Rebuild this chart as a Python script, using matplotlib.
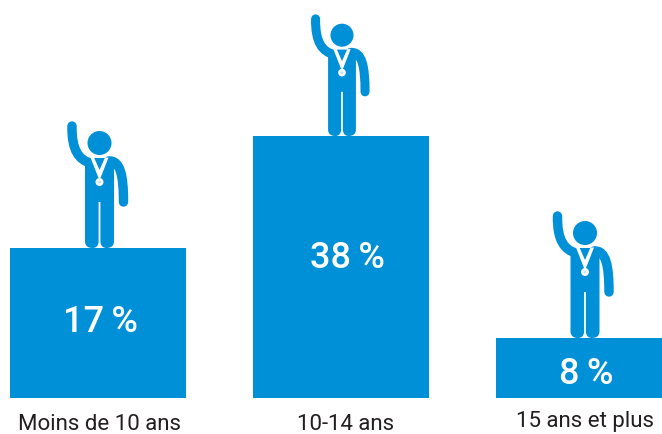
import matplotlib
matplotlib.use("Agg")
import matplotlib.pyplot as plt
from matplotlib.path import Path
from matplotlib.patches import PathPatch, Circle, Polygon

plt.rcParams['font.family'] = ['Roboto', 'DejaVu Sans']

# Data
categories = ["Moins de 10 ans", "10-14 ans", "15 ans et plus"]
percents = [17, 38, 8]
# the bars are not drawn to scale in the original, so heights are read separately
bar_heights = [150, 262, 60]

# Layout, in pixels
bar_centers = [98, 341, 584]
person_x = [99.5, 342, 585]
person_scale = [1.0, 0.96, 1.0]
percent_x = [100, 347, 586]
percent_y = [322, 259, 374]
label_x = [100, 346, 585]
label_y = [425, 425, 421]

BLUE = "#0090d7"
BASE = 398


def draw_person(ax, cx, base, s):
    # icon coordinates: dx from centre, dy above the top of the bar
    def p(dx, dy):
        return (cx + dx * s, base - dy * s)

    # raised arm
    arm = Path([p(-27.5, 122), p(-28, 97), p(-20, 88), p(-9, 85)],
               [Path.MOVETO, Path.CURVE4, Path.CURVE4, Path.CURVE4])
    ax.add_patch(PathPatch(arm, fill=False, ec=BLUE, lw=6.8 * s, capstyle='round'))
    # lower arm
    arm2 = Path([p(9, 87), p(21, 88), p(24, 72), p(24, 46)],
                [Path.MOVETO, Path.CURVE4, Path.CURVE4, Path.CURVE4])
    ax.add_patch(PathPatch(arm2, fill=False, ec=BLUE, lw=6.8 * s, capstyle='round'))
    # torso and legs
    verts = [p(-14.5, 90), p(14.5, 90), p(14.5, 6), p(14, 0), p(7, 0), p(1.5, 0), p(0.9, 6), p(0.9, 46),
             p(-0.9, 46), p(-0.9, 6), p(-1.5, 0), p(-7, 0), p(-14, 0), p(-14.5, 6), p(-14.5, 90)]
    codes = [Path.MOVETO, Path.LINETO, Path.LINETO, Path.CURVE3, Path.CURVE3, Path.CURVE3, Path.CURVE3, Path.LINETO,
             Path.LINETO, Path.LINETO, Path.CURVE3, Path.CURVE3, Path.CURVE3, Path.CURVE3, Path.LINETO]
    ax.add_patch(PathPatch(Path(verts, codes), fc=BLUE, ec='none'))
    # head
    ax.add_patch(Circle(p(0, 105), 12 * s, fc=BLUE, ec='none'))
    # medal ribbon
    ax.add_patch(Polygon([p(-9, 90.5), p(-5.5, 90.5), p(0, 78), p(5.5, 90.5), p(9, 90.5), p(1, 70), p(-1, 70)],
                         closed=True, fc='white', ec='none'))
    ax.add_patch(Circle(p(0, 66), 4 * s, fc='white', ec='none'))
    ax.add_patch(Circle(p(0, 66), 1.5 * s, fc='#bfe3f5', ec='none'))


fig = plt.figure(figsize=(6.62, 4.34), dpi=100)
ax = fig.add_axes([0, 0, 1, 1])
ax.set_xlim(0, 662)
ax.set_ylim(434, 0)
ax.axis('off')

ax.bar(bar_centers, bar_heights, width=176, bottom=[BASE - h for h in bar_heights], color=BLUE, linewidth=0)

for i in range(3):
    top = BASE - bar_heights[i]
    draw_person(ax, person_x[i], top, person_scale[i])
    ax.text(percent_x[i], percent_y[i], f"{percents[i]}\u2009%", color='white', fontsize=26,
            fontweight='medium', ha='center', va='center')
    ax.text(label_x[i], label_y[i], categories[i], color='#231f20', fontsize=16, ha='center', va='center')

plt.savefig("out.png", dpi=100)
